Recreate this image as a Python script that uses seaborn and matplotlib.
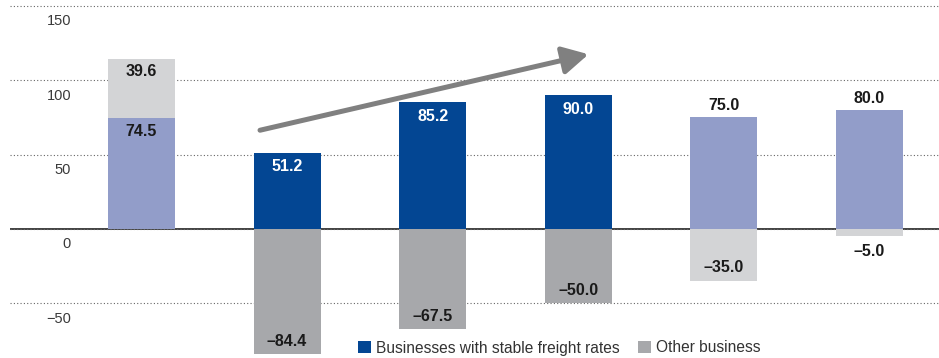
import numpy as np
import pandas as pd
import matplotlib
matplotlib.use("Agg")
import matplotlib.pyplot as plt
import matplotlib.transforms as mtransforms
from matplotlib.patches import Patch
import seaborn as sns

# ---- data ----
categories = ["A", "B", "C", "D", "E", "F"]
stable_values = [74.5, 51.2, 85.2, 90.0, 75.0, 80.0]
extra_values = [39.6, np.nan, np.nan, np.nan, np.nan, np.nan]
other_values = [np.nan, -84.4, -67.5, -50.0, -35.0, -5.0]
y_ticks = [-50, 0, 50, 100, 150]
legend_labels = ["Businesses with stable freight rates", "Other business"]

# ---- styles ----
DARK_BLUE = "#034693"
LIGHT_BLUE = "#929dc9"
DARK_GRAY = "#a7a8ab"
LIGHT_GRAY = "#d3d4d6"
stable_colors = [LIGHT_BLUE, DARK_BLUE, DARK_BLUE, DARK_BLUE, LIGHT_BLUE, LIGHT_BLUE]
other_colors = [LIGHT_GRAY, DARK_GRAY, DARK_GRAY, DARK_GRAY, LIGHT_GRAY, LIGHT_GRAY]

sns.set_theme(style="white")
plt.rcParams["font.family"] = ["Liberation Sans", "DejaVu Sans"]

fig = plt.figure(figsize=(9.39, 3.58), dpi=100)
ax = fig.add_axes([10 / 939, 0, 929 / 939, 1])

df = pd.DataFrame({"cat": categories,
                   "stable": stable_values,
                   "top": np.array(stable_values) + np.array(extra_values),
                   "other": other_values})

W = 0.46
common = dict(x="cat", hue="cat", order=categories, hue_order=categories, width=W,
              errorbar=None, saturation=1, legend=False, linewidth=0, ax=ax)
# stacked segment (drawn as full height, then covered by the lower segment)
sns.barplot(data=df.dropna(subset=["top"]), y="top",
            palette=dict(zip(categories, other_colors)), **common)
sns.barplot(data=df, y="stable", palette=dict(zip(categories, stable_colors)), **common)
sns.barplot(data=df.dropna(subset=["other"]), y="other",
            palette=dict(zip(categories, other_colors)), **common)

ax.set_xlim(-0.903, 5.477)
ax.set_ylim(-86.8, 154)
ax.set_xlabel("")
ax.set_ylabel("")
ax.set_xticks([])
for s in ax.spines.values():
    s.set_visible(False)

# grid
ax.set_yticks(y_ticks)
ax.set_axisbelow(True)
ax.yaxis.grid(True, linestyle=(0, (1, 2)), linewidth=0.8, color="#666666")
ax.xaxis.grid(False)
ax.axhline(0, color="#333333", linewidth=1.3, zorder=0.5)

ax.tick_params(axis="y", length=0, pad=-44, labelsize=10.5, labelcolor="#3a3a3a")
off = mtransforms.ScaledTranslation(0, -14 / 100, fig.dpi_scale_trans)
for lab in ax.get_yticklabels():
    lab.set_horizontalalignment("right")
    lab.set_transform(lab.get_transform() + off)

LBL = dict(ha="center", va="center", fontsize=11.5, fontweight="bold",
           textcoords="offset points")
PT = 72 / 100  # points per pixel


def fmt(v):
    return f"{v:.1f}".replace("-", "\u2013")


# positive labels
for i, v in enumerate(stable_values):
    if i in (1, 2, 3):
        ax.annotate(fmt(v), (i, v), xytext=(0, -14 * PT), color="white", **LBL)
    elif i == 0:
        ax.annotate(fmt(v), (i, v), xytext=(0, -13 * PT), color="#1a1a1a", **LBL)
    else:
        ax.annotate(fmt(v), (i, v), xytext=(0, 12 * PT), color="#1a1a1a", **LBL)
# extra label
for i, e in enumerate(extra_values):
    if not np.isnan(e):
        ax.annotate(fmt(e), (i, stable_values[i] + e), xytext=(0, -12 * PT),
                    color="#1a1a1a", **LBL)
# negative labels
for i, v in enumerate(other_values):
    if np.isnan(v):
        continue
    if abs(v) < 15:
        ax.annotate(fmt(v), (i, v), xytext=(0, -15 * PT), color="#1a1a1a", **LBL)
    else:
        ax.annotate(fmt(v), (i, v), xytext=(0, 13 * PT), color="#1a1a1a", **LBL)

# trend arrow
ax.annotate("", xy=(3.07, 117.5), xytext=(0.814, 66.4),
            arrowprops=dict(arrowstyle="-|>,head_length=1.3,head_width=0.7",
                            lw=3.6, color="#808080", shrinkA=0, shrinkB=0))

# legend
handles = [Patch(facecolor=DARK_BLUE, edgecolor="none"),
           Patch(facecolor=DARK_GRAY, edgecolor="none")]
fig.legend(handles, legend_labels, loc="center left",
           bbox_to_anchor=(358 / 939, 1 - 348 / 358), ncol=2, frameon=False,
           fontsize=11.2, borderpad=0, borderaxespad=0, handlelength=0.85,
           handleheight=0.85, handletextpad=0.3, columnspacing=1.2,
           labelcolor="#333333")

fig.savefig("out.png", dpi=100)
